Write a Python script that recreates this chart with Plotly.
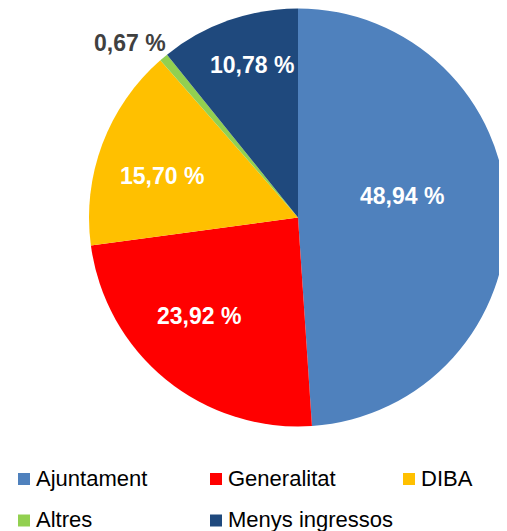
import math
import plotly.graph_objects as go

labels = ["Ajuntament", "Generalitat", "DIBA", "Altres", "Menys ingressos"]
values = [48.94, 23.92, 15.70, 0.67, 10.78]
value_text = ["48,94 %", "23,92 %", "15,70 %", "0,67 %", "10,78 %"]
colors = ["#4F81BD", "#FF0000", "#FFC000", "#92D050", "#1F497D"]
label_colors = ["white", "white", "white", "#404040", "white"]
# label placement (radius fraction, angle offset in degrees from slice middle)
label_rfrac = [0.51, 0.67, 0.68, 1.16, 0.76]
label_dang = [-9.5, 6.0, -3.5, -4.0, 2.7]

# page is offset by the browser's 8px body margin
PAGE_OFF = 8
W, H = 507 - PAGE_OFF, 531 - PAGE_OFF
FONT = "Liberation Sans, Arial, sans-serif"

# pie centre / radius in page pixels
PCX, PCY, R = 298, 217.5, 209
fcx, fcy = PCX - PAGE_OFF, PCY - PAGE_OFF
dom_x = [(fcx - R) / W, min(1.0, (fcx + R) / W)]
dom_y = [(H - (fcy + R)) / H, (H - (fcy - R)) / H]


def px(x):
    return (x - PAGE_OFF) / W


def py(y):
    return 1 - (y - PAGE_OFF) / H


fig = go.Figure(go.Pie(
    labels=labels, values=values, sort=False, direction="clockwise", rotation=0,
    marker=dict(colors=colors, line=dict(width=0)),
    textinfo="none", hoverinfo="label+percent",
    domain=dict(x=dom_x, y=dom_y), showlegend=False,
))

total = sum(values)
cum = 0
annotations = []
for v, t, c, rf, da in zip(values, value_text, label_colors, label_rfrac, label_dang):
    mid = (cum + v / 2) / total * 360 + da
    cum += v
    a = math.radians(mid)
    x = PCX + rf * R * math.sin(a)
    y = PCY - rf * R * math.cos(a)
    annotations.append(dict(
        x=px(x), y=py(y), xref="paper", yref="paper", text="<b>%s</b>" % t,
        showarrow=False, font=dict(size=23, color=c, family=FONT),
        xanchor="center", yanchor="middle"))

# legend (3 columns x 2 rows), drawn from labels / colors
leg_col_x = [18, 210, 403]      # swatch left edge, page px
leg_row_y = [479, 520.5]        # swatch centre, page px
sw = 12
shapes = []
for i, (lab, col) in enumerate(zip(labels, colors)):
    r, c = divmod(i, 3)
    x0 = leg_col_x[c]
    yc = leg_row_y[r]
    shapes.append(dict(type="rect", xref="paper", yref="paper",
                       x0=px(x0), x1=px(x0 + sw),
                       y0=py(yc + sw / 2), y1=py(yc - sw / 2),
                       fillcolor=col, line=dict(width=0)))
    annotations.append(dict(x=px(x0 + sw + 4), y=py(yc - 1),
                            xref="paper", yref="paper", text=lab, showarrow=False,
                            xanchor="left", yanchor="middle",
                            font=dict(size=22, color="#000000", family=FONT)))

fig.update_layout(
    width=W, height=H, margin=dict(l=0, r=0, t=0, b=0, autoexpand=False),
    paper_bgcolor="white", plot_bgcolor="white",
    annotations=annotations, shapes=shapes,
    showlegend=False,
    font=dict(family=FONT),
)
fig.write_html("out.html")
